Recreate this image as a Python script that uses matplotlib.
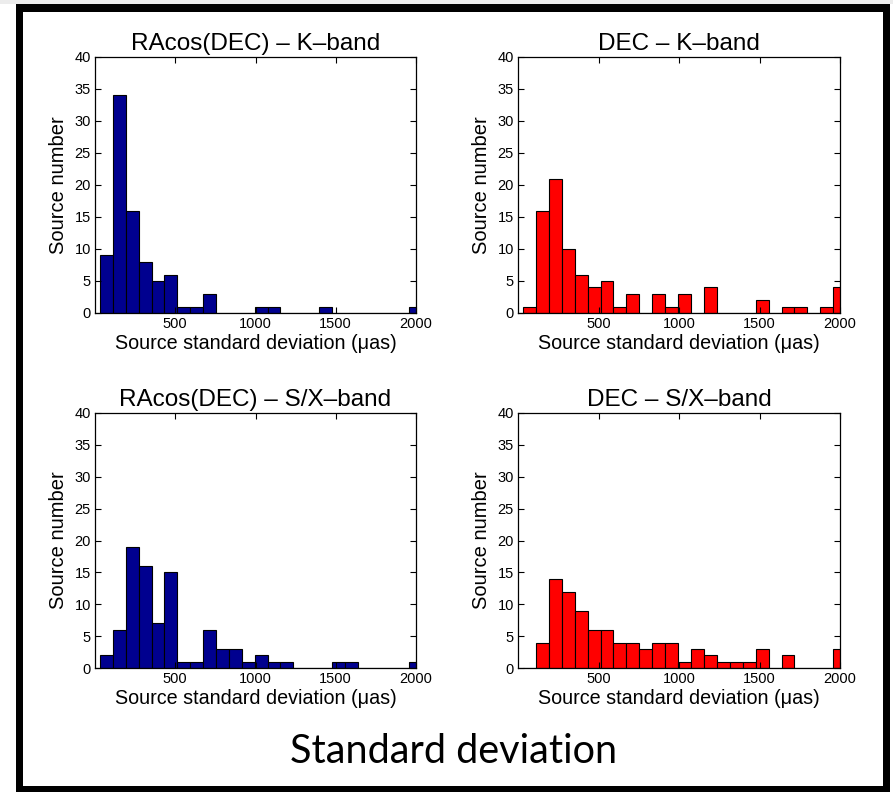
import numpy as np
import matplotlib
matplotlib.use("Agg")
import matplotlib.pyplot as plt
from matplotlib.patches import Rectangle

# histogram bins (uas), same for all four panels
bin_start = 31.0
bin_width = 80.3

ra_k_counts = [9, 34, 16, 8, 5, 6, 1, 1, 3, 0, 0, 0, 1, 1, 0, 0, 0, 1, 0, 0, 0, 0, 0, 0, 1]
dec_k_counts = [1, 16, 21, 10, 6, 4, 5, 1, 3, 0, 3, 1, 3, 0, 4, 0, 0, 0, 2, 0, 1, 1, 0, 1, 4]
ra_sx_counts = [2, 6, 19, 16, 7, 15, 1, 1, 6, 3, 3, 1, 2, 1, 1, 0, 0, 0, 1, 1, 0, 0, 0, 0, 1]
dec_sx_counts = [0, 4, 14, 12, 9, 6, 6, 4, 4, 3, 4, 4, 1, 3, 2, 1, 1, 1, 3, 0, 2, 0, 0, 0, 3]

titles = ["RAcos(DEC) \u2013 K\u2013band", "DEC \u2013 K\u2013band",
          "RAcos(DEC) \u2013 S/X\u2013band", "DEC \u2013 S/X\u2013band"]
x_ticks = [500, 1000, 1500, 2000]
y_ticks = [0, 5, 10, 15, 20, 25, 30, 35, 40]

blue = "#00008f"
red = "#ff0000"

plt.rcParams['font.family'] = ['Liberation Sans', 'DejaVu Sans']

W, H = 893, 792
fig = plt.figure(figsize=(W / 100, H / 100), dpi=100)
fig.patch.set_facecolor("white")

# slide frame (kept behind the axes)
fig.add_artist(Rectangle((0, 1 - 4 / H), 1, 4 / H, transform=fig.transFigure,
                         facecolor="#ececec", edgecolor="none", zorder=-10))
fig.add_artist(Rectangle((16 / W, 0), (890 - 16) / W, (H - 4) / H, transform=fig.transFigure,
                         facecolor="black", edgecolor="none", zorder=-10))
fig.add_artist(Rectangle((23 / W, 1 - 786 / H), (883 - 23) / W, (786 - 12) / H,
                         transform=fig.transFigure, facecolor="white", edgecolor="none",
                         zorder=-9))


def px_axes(x0, y0, x1, y1):
    return fig.add_axes([x0 / W, 1 - y1 / H, (x1 - x0) / W, (y1 - y0) / H])


axes = [px_axes(95, 57, 416, 313), px_axes(518, 57, 840, 313),
        px_axes(95, 413, 416, 668), px_axes(518, 413, 840, 668)]
data = [ra_k_counts, dec_k_counts, ra_sx_counts, dec_sx_counts]
colors = [blue, red, blue, red]

for ax, counts, col, title in zip(axes, data, colors, titles):
    lefts = bin_start + bin_width * np.arange(len(counts))
    ax.bar(lefts, counts, width=bin_width, align='edge', color=col,
           edgecolor='black', linewidth=0.8)
    ax.set_xlim(0, 2000)
    ax.set_ylim(0, 40)
    ax.set_xticks(x_ticks)
    ax.set_yticks(y_ticks)
    ax.tick_params(direction='in', top=True, right=True, length=4, width=0.8,
                   labelsize=10.5, pad=3)
    for s in ax.spines.values():
        s.set_linewidth(0.9)
    ax.set_title(title, fontsize=17.5, pad=5)
    ax.set_xlabel("Source standard deviation (\u03bcas)", fontsize=14.2, labelpad=2)
    ax.set_ylabel("Source number", fontsize=14.5, labelpad=5)

fig.text(454 / W, 1 - 763 / H, "Standard deviation", fontsize=28.5, family='Lato',
         ha='center', va='baseline')

fig.savefig("out.png", dpi=100)
